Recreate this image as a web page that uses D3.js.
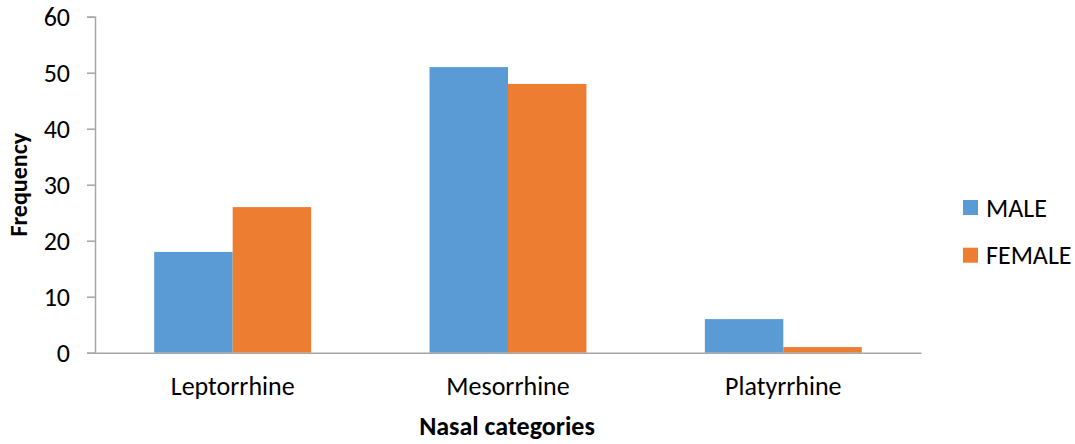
<!DOCTYPE html>
<html>
<head>
<meta charset="utf-8">
<script src="https://cdn.jsdelivr.net/npm/d3@7"></script>
<style>
  html, body { margin: 0; padding: 0; background: #fff; }
  svg { display: block; }
  text { font-family: Calibri, Carlito, Lato, "Noto Sans", sans-serif; fill: #000; }
</style>
</head>
<body>
<svg id="chart" width="1075" height="444"></svg>
<script>
// Nasal index categories and frequency by sex
const categories = ["Leptorrhine", "Mesorrhine", "Platyrrhine"];
const seriesNames = ["MALE", "FEMALE"];
const maleValues = [18, 51, 6];
const femaleValues = [26, 48, 1];
const yTicks = [0, 10, 20, 30, 40, 50, 60];
const colors = ["#5B9BD5", "#ED7D31"];

const svg = d3.select("#chart");
const plot = { left: 95, right: 921, top: 16.7, bottom: 352.7 };
const fontSize = 26;

const rows = categories.map((c, i) => ({ category: c, values: [maleValues[i], femaleValues[i]] }));

const x0 = d3.scaleBand()
  .domain(categories)
  .range([plot.left, plot.right])
  .paddingInner(0.43)
  .paddingOuter(0.215);

const x1 = d3.scaleBand()
  .domain(seriesNames)
  .range([0, x0.bandwidth()])
  .padding(0);

const y = d3.scaleLinear()
  .domain([0, 60])
  .range([plot.bottom, plot.top]);

// Bars
const groups = svg.append("g")
  .selectAll("g")
  .data(rows)
  .join("g")
  .attr("transform", d => `translate(${x0(d.category)},0)`);

groups.selectAll("rect")
  .data(d => d.values.map((v, k) => ({ name: seriesNames[k], value: v, k })))
  .join("rect")
  .attr("x", d => x1(d.name))
  .attr("y", d => y(d.value))
  .attr("width", x1.bandwidth())
  .attr("height", d => y(0) - y(d.value))
  .attr("fill", d => colors[d.k]);

// Y axis
const yAxis = svg.append("g")
  .attr("transform", `translate(${plot.left},0)`)
  .call(d3.axisLeft(y).tickValues(yTicks).tickSize(8).tickPadding(17).tickFormat(d3.format("d")));
yAxis.select(".domain").attr("stroke", "#a6a6a6").attr("stroke-width", 1.5);
yAxis.selectAll(".tick line").attr("stroke", "#a6a6a6").attr("stroke-width", 1.5);
yAxis.selectAll(".tick text")
  .attr("fill", "#000")
  .style("font-size", fontSize + "px")
  .style("font-family", null);

// X axis (baseline only, no tick marks)
const xAxis = svg.append("g")
  .attr("transform", `translate(0,${plot.bottom})`)
  .call(d3.axisBottom(x0).tickSize(0).tickPadding(24).tickSizeOuter(0));
xAxis.select(".domain").attr("stroke", "#a6a6a6").attr("stroke-width", 1.5);
xAxis.selectAll(".tick text")
  .attr("fill", "#000")
  .style("font-size", fontSize + "px")
  .style("font-family", null);

// Axis titles
svg.append("text")
  .attr("x", (plot.left + plot.right) / 2 - 1)
  .attr("y", 435)
  .attr("text-anchor", "middle")
  .style("font-size", fontSize + "px")
  .style("font-weight", "bold")
  .text("Nasal categories");

svg.append("text")
  .attr("transform", `translate(27,${(plot.top + plot.bottom) / 2}) rotate(-90)`)
  .attr("text-anchor", "middle")
  .style("font-size", "24px")
  .style("font-weight", "bold")
  .text("Frequency");

// Legend
const legend = svg.append("g")
  .selectAll("g")
  .data(seriesNames)
  .join("g")
  .attr("transform", (d, i) => `translate(963,${200 + i * 47.7})`);
legend.append("rect")
  .attr("width", 15)
  .attr("height", 15)
  .attr("fill", (d, i) => colors[i]);
legend.append("text")
  .attr("x", 23)
  .attr("y", 16.5)
  .style("font-size", fontSize + "px")
  .text(d => d);
</script>
</body>
</html>
